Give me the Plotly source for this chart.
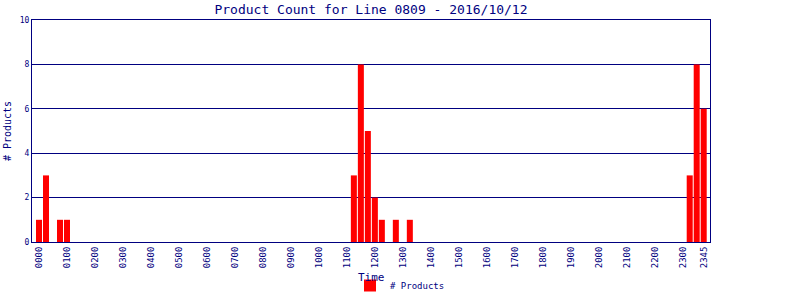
import plotly.graph_objects as go

# 15-minute slots from 0000 to 2345
slots = [f"{h:02d}{m:02d}" for h in range(24) for m in (0, 15, 30, 45)]
nonzero = {"0000": 1, "0015": 3, "0045": 1, "0100": 1,
           "1115": 3, "1130": 8, "1145": 5, "1200": 2, "1215": 1, "1245": 1, "1315": 1,
           "2315": 3, "2330": 8, "2345": 6}
counts = [nonzero.get(s, 0) for s in slots]
tick_labels = [f"{h:02d}00" for h in range(24)] + ["2345"]

navy = "#000080"
font = "DejaVu Sans Mono"

idx = list(range(len(slots)))
tickvals = [slots.index(t) for t in tick_labels]

fig = go.Figure(go.Bar(x=idx, y=counts, name="# Products",
                       marker=dict(color="#ff0000", line=dict(width=0)),
                       showlegend=True))

fig.update_layout(
    width=800, height=300,
    margin=dict(l=32, r=90, t=20, b=58),
    paper_bgcolor="white", plot_bgcolor="white",
    bargap=0.14,
    title=dict(text="Product Count for Line 0809 - 2016/10/12", x=(32 + 710) / 2 / 800,
               xanchor="center", y=0.97, yanchor="middle",
               font=dict(family=font, size=13, color=navy)),
    xaxis=dict(range=[-1, 95.9], tickvals=tickvals, ticktext=tick_labels, tickangle=-90,
               tickfont=dict(family=font, size=9, color=navy), automargin=False,
               showgrid=False, showline=True, linecolor=navy, linewidth=1, mirror=True,
               ticks=""),
    yaxis=dict(range=[0, 10], tickvals=[0, 2, 4, 6, 8, 10], automargin=False,
               tickfont=dict(family=font, size=8, color=navy),
               showgrid=True, gridcolor=navy, gridwidth=1,
               showline=True, linecolor=navy, linewidth=1, mirror=True, zeroline=False,
               ticks="", title=dict(text="# Products", font=dict(family=font, size=10, color=navy),
                                    standoff=6)),
    legend=dict(orientation="h", x=0.5, xref="container", xanchor="center",
                y=0, yref="container", yanchor="bottom",
                font=dict(family=font, size=9, color=navy)),
    annotations=[dict(text="Time", x=0.5, xref="paper", y=-0.158, yref="paper",
                      xanchor="center", yanchor="middle", showarrow=False,
                      font=dict(family=font, size=11, color=navy))],
)

fig.write_html("out.html")
